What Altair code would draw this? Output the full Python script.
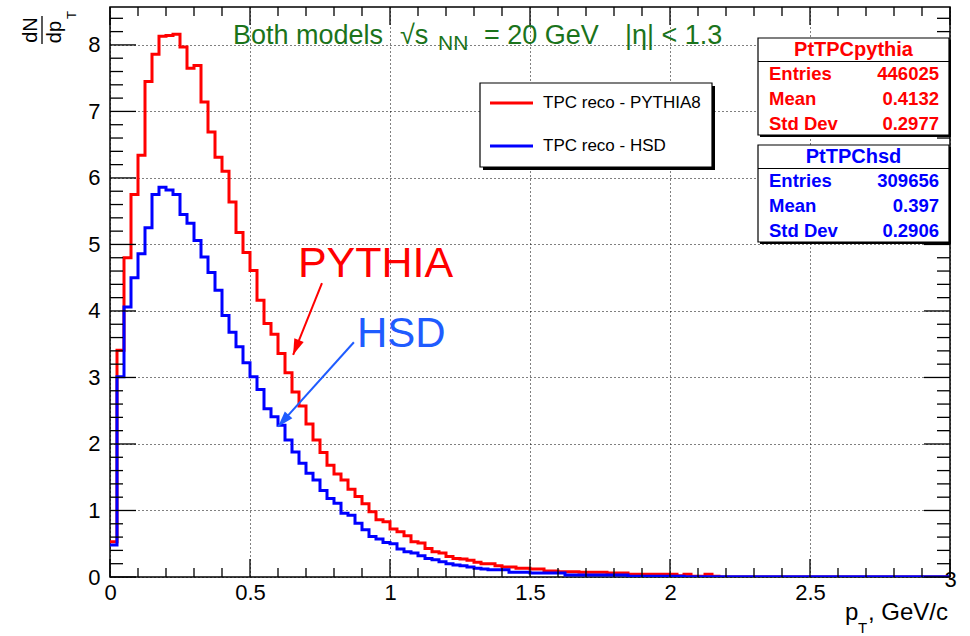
import math
import altair as alt
import pandas as pd

# ---------------- data ----------------
BIN_WIDTH = 0.025  # GeV/c, 120 bins on [0, 3]

pythia_counts = [
    0.53, 3.41, 4.80, 5.75, 6.34, 7.45, 7.86, 8.13, 8.14, 8.16,
    7.97, 7.65, 7.69, 7.14, 6.69, 6.31, 6.10, 5.64, 5.18, 4.88,
    4.61, 4.16, 3.81, 3.65, 3.36, 3.07, 2.78, 2.57, 2.30, 2.06,
    1.87, 1.68, 1.55, 1.46, 1.32, 1.21, 1.10, 0.98, 0.86, 0.83,
    0.72, 0.68, 0.62, 0.53, 0.51, 0.43, 0.38, 0.36, 0.31, 0.28,
    0.27, 0.25, 0.22, 0.20, 0.20, 0.17, 0.15, 0.15, 0.13, 0.13,
    0.12, 0.12, 0.09, 0.09, 0.08, 0.08, 0.08, 0.07, 0.07, 0.07,
    0.07, 0.06, 0.06, 0.06, 0.04, 0.04, 0.04, 0.04, 0.04, 0.04,
    0.04, 0.02, 0.04, 0.01, 0.01, 0.04, 0.01, 0.00, 0.00, 0.00,
    0.00, 0.00, 0.00, 0.00, 0.00, 0.00, 0.00, 0.00, 0.00, 0.00,
    0.00, 0.00, 0.00, 0.00, 0.00, 0.00, 0.00, 0.00, 0.00, 0.00,
    0.00, 0.00, 0.00, 0.00, 0.00, 0.00, 0.00, 0.00, 0.00, 0.00,
]

hsd_counts = [
    0.48, 3.01, 4.06, 4.50, 4.86, 5.25, 5.75, 5.86, 5.82, 5.75,
    5.45, 5.32, 5.06, 4.81, 4.58, 4.31, 3.93, 3.68, 3.46, 3.22,
    3.01, 2.82, 2.53, 2.41, 2.28, 2.06, 1.88, 1.71, 1.56, 1.46,
    1.30, 1.18, 1.11, 0.96, 0.93, 0.81, 0.71, 0.61, 0.57, 0.52,
    0.50, 0.42, 0.38, 0.36, 0.32, 0.28, 0.26, 0.23, 0.20, 0.18,
    0.17, 0.15, 0.13, 0.12, 0.11, 0.11, 0.11, 0.07, 0.07, 0.07,
    0.06, 0.06, 0.06, 0.06, 0.06, 0.03, 0.03, 0.03, 0.03, 0.03,
    0.03, 0.03, 0.03, 0.03, 0.01, 0.01, 0.01, 0.01, 0.01, 0.01,
    0.01, 0.01, 0.004, 0.004, 0.004, 0.004, 0.004, 0.004, 0.004, 0.004,
    0.004, 0.004, 0.004, 0.004, 0.004, 0.004, 0.004, 0.004, 0.004, 0.004,
    0.002, 0.002, 0.002, 0.002, 0.002, 0.002, 0.002, 0.002, 0.002, 0.002,
    0.002, 0.002, 0.002, 0.002, 0.002, 0.002, 0.002, 0.002, 0.002, 0.002,
]

series_names = ["PYTHIA", "HSD"]
legend_labels = ["TPC reco - PYTHIA8", "TPC reco - HSD"]

stats_names = ["PtTPCpythia", "PtTPChsd"]
stats_row_labels = ["Entries", "Mean", "Std Dev"]
stats_entries = ["446025", "309656"]
stats_means = ["0.4132", "0.397"]
stats_stddevs = ["0.2977", "0.2906"]

x_tick_labels = [0, 0.5, 1, 1.5, 2, 2.5, 3]
y_tick_labels = [0, 1, 2, 3, 4, 5, 6, 7, 8]

# annotation anchor points in data units (pT, dN/dpT)
annot_text_pt = [0.671, 0.882]
annot_text_dn = [4.71, 3.66]
arrow_start_pt = [0.757, 0.871]
arrow_start_dn = [4.42, 3.53]
arrow_tip_pt = [0.654, 0.600]
arrow_tip_dn = [3.34, 2.26]

# ---------------- style / layout ----------------
FONT = "Liberation Sans"
RED = "#ff0000"
BLUE = "#0000ff"
HSD_BLUE = "#1f5cff"
GREEN = "#1b731b"
W, H = 840, 570
X_DOMAIN = [0, 3]
Y_DOMAIN = [0, 8.57]

xs = alt.Scale(domain=X_DOMAIN, nice=False, zero=False)
ys = alt.Scale(domain=Y_DOMAIN, nice=False, zero=False)
one = pd.DataFrame({"_": [0]})


def step_frame(counts):
    n = len(counts)
    edges = [k * BIN_WIDTH for k in range(n + 1)]
    vals = list(counts) + [counts[-1]]
    return pd.DataFrame({"pt": edges, "dn": vals, "order": list(range(n + 1))})


def ptext(text, x, y, size, color, align="left", baseline="alphabetic",
          bold=False, angle=0):
    return alt.Chart(one).mark_text(
        text=text, font=FONT, fontSize=size, color=color, align=align,
        baseline=baseline, fontWeight="bold" if bold else "normal", angle=angle,
    ).encode(x=alt.value(x), y=alt.value(y))


def prect(x1, x2, y1, y2, fill, stroke_width=0):
    kw = dict(fill=fill)
    if stroke_width:
        kw.update(stroke="black", strokeWidth=stroke_width)
    return alt.Chart(one).mark_rect(**kw).encode(
        x=alt.value(x1), x2=alt.value(x2), y=alt.value(y1), y2=alt.value(y2))


def prule(x1, y1, x2, y2, color="black", sw=1):
    return alt.Chart(one).mark_rule(color=color, strokeWidth=sw).encode(
        x=alt.value(x1), x2=alt.value(x2), y=alt.value(y1), y2=alt.value(y2))


layers = []

# ---- histograms (first one carries the axes + dotted grid) ----
x_axis = alt.Axis(values=x_tick_labels, format="~g", grid=True, gridDash=[1, 3],
                  gridColor="black", gridWidth=1, gridOpacity=1, ticks=False,
                  domain=False, labelFont=FONT, labelFontSize=22, labelColor="black",
                  labelPadding={"condition": {"test": "datum.value >= 3", "value": -8},
                                "value": 5},
                  labelFlush=False, title=None)
y_axis = alt.Axis(values=y_tick_labels, format="~g", grid=True, gridDash=[1, 3],
                  gridColor="black", gridWidth=1, gridOpacity=1, ticks=False,
                  domain=False, labelFont=FONT, labelFontSize=22, labelColor="black",
                  labelPadding=10, labelFlush=False, title=None)

for i, (counts, color) in enumerate([(pythia_counts, RED), (hsd_counts, BLUE)]):
    layers.append(
        alt.Chart(step_frame(counts)).mark_line(
            interpolate="step-after", color=color, strokeWidth=3, clip=True
        ).encode(
            x=alt.X("pt:Q", scale=xs, axis=x_axis if i == 0 else None),
            y=alt.Y("dn:Q", scale=ys, axis=y_axis if i == 0 else None),
            order="order:Q",
        )
    )

# ---- inward ticks on all four sides ----
y_minor = [round(0.2 * i, 1) for i in range(43) if i % 5]
x_minor = [round(0.1 * i, 1) for i in range(31) if i % 5]
for vals, length in [(y_tick_labels, 26), (y_minor, 13)]:
    d = pd.DataFrame({"v": vals})
    for x0, x1 in [(0, length), (W, W - length)]:
        layers.append(alt.Chart(d).mark_rule(color="black", strokeWidth=1.3).encode(
            y=alt.Y("v:Q", scale=ys, axis=None), x=alt.value(x0), x2=alt.value(x1)))
for vals, length in [(x_tick_labels, 18), (x_minor, 9)]:
    d = pd.DataFrame({"v": vals})
    for y0, y1 in [(H, H - length), (0, length)]:
        layers.append(alt.Chart(d).mark_rule(color="black", strokeWidth=1.3).encode(
            x=alt.X("v:Q", scale=xs, axis=None), y=alt.value(y0), y2=alt.value(y1)))

# ---- annotations PYTHIA / HSD with arrows (data coordinates) ----
px_per_x = W / (X_DOMAIN[1] - X_DOMAIN[0])
px_per_y = H / (Y_DOMAIN[1] - Y_DOMAIN[0])
for i, (label, color, size) in enumerate([("PYTHIA", RED, 43), ("HSD", HSD_BLUE, 42)]):
    layers.append(alt.Chart(pd.DataFrame({"pt": [annot_text_pt[i]], "dn": [annot_text_dn[i]]}))
                  .mark_text(text=label, font=FONT, fontSize=size, color=color,
                             align="left", baseline="middle")
                  .encode(x=alt.X("pt:Q", scale=xs, axis=None),
                          y=alt.Y("dn:Q", scale=ys, axis=None)))
    arr = pd.DataFrame({"pt": [arrow_start_pt[i]], "dn": [arrow_start_dn[i]],
                        "pt2": [arrow_tip_pt[i]], "dn2": [arrow_tip_dn[i]]})
    layers.append(alt.Chart(arr).mark_rule(color=color, strokeWidth=2).encode(
        x=alt.X("pt:Q", scale=xs, axis=None), y=alt.Y("dn:Q", scale=ys, axis=None),
        x2="pt2:Q", y2="dn2:Q"))
    dx = (arrow_tip_pt[i] - arrow_start_pt[i]) * px_per_x
    dy = -(arrow_tip_dn[i] - arrow_start_dn[i]) * px_per_y
    ang = math.degrees(math.atan2(dx, -dy)) % 360
    layers.append(alt.Chart(arr).mark_point(
        shape="M0,0L-0.32,1L0.32,1Z", size=1000, filled=True, color=color,
        opacity=1, angle=ang, strokeWidth=0
    ).encode(x=alt.X("pt2:Q", scale=xs, axis=None), y=alt.Y("dn2:Q", scale=ys, axis=None)))

# ---- legend box ----
LX1, LX2, LY1, LY2 = 370, 602, 76, 160
layers.append(prect(LX1 + 3, LX2 + 3, LY1 + 3, LY2 + 3, "black"))
layers.append(prect(LX1, LX2, LY1, LY2, "white", 1.2))
for i, (lab, color) in enumerate(zip(legend_labels, [RED, BLUE])):
    yy = [96, 139][i]
    layers.append(prule(380, yy, 423, yy, color, 3))
    layers.append(ptext(lab, 433, yy, 17, "black", baseline="middle"))

# ---- stats boxes ----
SX1, SX2 = 648, 839
for i, color in enumerate([RED, BLUE]):
    top = [31, 138][i]
    bot = top + 97
    layers.append(prect(SX1 + 2, SX2 + 2, top + 2, bot + 2, "black"))
    layers.append(prect(SX1, SX2, top, bot, "white", 1.2))
    layers.append(prule(SX1, top + 23.5, SX2, top + 23.5, "black", 1.2))
    layers.append(ptext(stats_names[i], (SX1 + SX2) / 2, top + 12, 20, color,
                        align="center", baseline="middle", bold=True))
    vals = [stats_entries[i], stats_means[i], stats_stddevs[i]]
    for r, (lab, val) in enumerate(zip(stats_row_labels, vals)):
        yy = top + 36 + 25 * r
        layers.append(ptext(lab, SX1 + 11, yy, 18.5, color, baseline="middle", bold=True))
        layers.append(ptext(val, SX2 - 10, yy, 18.5, color, align="right",
                            baseline="middle", bold=True))

# ---- green header ----
layers.append(ptext("Both models", 123, 37, 27, GREEN))
layers.append(ptext("√s", 290, 37, 27, GREEN))
layers.append(ptext("NN", 328, 43, 21, GREEN))
layers.append(ptext("= 20 GeV", 374, 37, 27, GREEN))
layers.append(ptext("|η| < 1.3", 515, 37, 27, GREEN))

# ---- axis titles ----
layers.append(ptext("p", 735, 613, 24, "black"))
layers.append(ptext("T", 748, 626, 15, "black"))
layers.append(ptext(", GeV/c", 838, 613, 24, "black", align="right"))

layers.append(ptext("dN", -73, 23, 20, "black", align="center", angle=270))
layers.append(prule(-68, 9, -68, 37, "black", 1.3))
layers.append(ptext("dp", -49, 25, 20, "black", align="center", angle=270))
layers.append(ptext("T", -34, 8, 13, "black", align="center", angle=270))

chart = alt.layer(*layers).resolve_axis(
    x="independent", y="independent"
).properties(
    width=W, height=H,
    padding={"left": 110, "top": 7, "right": 20, "bottom": 59},
    autosize=alt.AutoSizeParams(type="none"),
    background="white",
).configure_view(stroke="black", strokeWidth=1.5)

chart.save("out.html", embed_options={"renderer": "svg", "actions": False})
